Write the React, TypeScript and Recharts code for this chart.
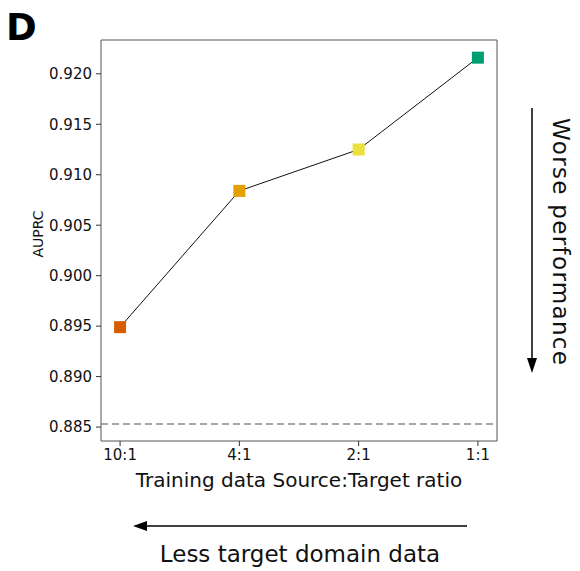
import React from 'react';
import { LineChart, Line, XAxis, YAxis, ReferenceLine, ReferenceArea } from 'recharts';

const categories = ['10:1', '4:1', '2:1', '1:1'];
const auprc = [0.8949, 0.9084, 0.9125, 0.9216];
const colors = ['#d55e00', '#e69f00', '#ebe03c', '#009e73'];
const baseline = 0.8853;
const yTicks = [0.885, 0.89, 0.895, 0.9, 0.905, 0.91, 0.915, 0.92];
const yDomain = [0.88362, 0.92335];
const xDomain = [-0.16, 3.16];

const data = categories.map((c, i) => ({ x: i, cat: c, v: auprc[i], color: colors[i] }));

const FONT = 'DejaVu Sans, sans-serif';

const SquareDot = (props: any) => {
  const { cx, cy, payload } = props;
  if (cx == null || cy == null) return null;
  const s = 12;
  return <rect x={cx - s / 2} y={cy - s / 2} width={s} height={s} fill={payload.color} />;
};

export default function App() {
  return (
    <div style={{ position: 'absolute', left: 0, top: 0, width: 580, height: 571, background: '#fff', fontFamily: FONT }}>
      <LineChart width={580} height={571} data={data} margin={{ top: 40, right: 83, bottom: 100, left: 0 }}>
        <XAxis
          dataKey="x"
          type="number"
          domain={xDomain}
          ticks={[0, 1, 2, 3]}
          tickFormatter={(v: number) => categories[v]}
          height={30}
          axisLine={false}
          tickLine={{ stroke: '#333' }}
          tickSize={5}
          tickMargin={3}
          tick={{ fill: '#111', fontSize: 15, fontFamily: FONT }}
        />
        <YAxis
          type="number"
          domain={yDomain}
          ticks={yTicks}
          tickFormatter={(v: number) => v.toFixed(3)}
          width={101}
          axisLine={false}
          tickLine={{ stroke: '#333' }}
          tickSize={5}
          tickMargin={4}
          tick={{ fill: '#111', fontSize: 15, fontFamily: FONT }}
        />
        <ReferenceArea x1={xDomain[0]} x2={xDomain[1]} y1={yDomain[0]} y2={yDomain[1]} fill="none" stroke="#555" strokeWidth={1} ifOverflow="visible" />
        <ReferenceLine y={baseline} stroke="#888" strokeDasharray="7 4" strokeWidth={1.5} />
        <Line dataKey="v" stroke="#111" strokeWidth={1} dot={<SquareDot />} isAnimationActive={false} />
      </LineChart>
      <svg width={580} height={571} style={{ position: 'absolute', left: 0, top: 0, pointerEvents: 'none' }}>
        <text x={6} y={40} fontSize={37} fontWeight="bold" fontFamily={FONT} fill="#000">D</text>
        <text x={43} y={234} fontSize={14} fontFamily={FONT} fill="#111" textAnchor="middle" transform="rotate(-90 43 234)">AUPRC</text>
        <text x={299} y={487} fontSize={20} fontFamily={FONT} fill="#111" textAnchor="middle">Training data Source:Target ratio</text>
        <line x1={532} y1={108} x2={532} y2={362} stroke="#000" strokeWidth={1.5} />
        <polygon points="527,358 537,358 532,373" fill="#000" />
        <text x={553} y={241.5} fontSize={23} fontFamily={FONT} fill="#111" textAnchor="middle" textLength={247} lengthAdjust="spacing" transform="rotate(90 553 241.5)">Worse performance</text>
        <line x1={143} y1={526} x2={467} y2={526} stroke="#000" strokeWidth={1.5} />
        <polygon points="147,521 147,531 133,526" fill="#000" />
        <text x={300} y={562} fontSize={23} fontFamily={FONT} fill="#111" textAnchor="middle">Less target domain data</text>
      </svg>
    </div>
  );
}
